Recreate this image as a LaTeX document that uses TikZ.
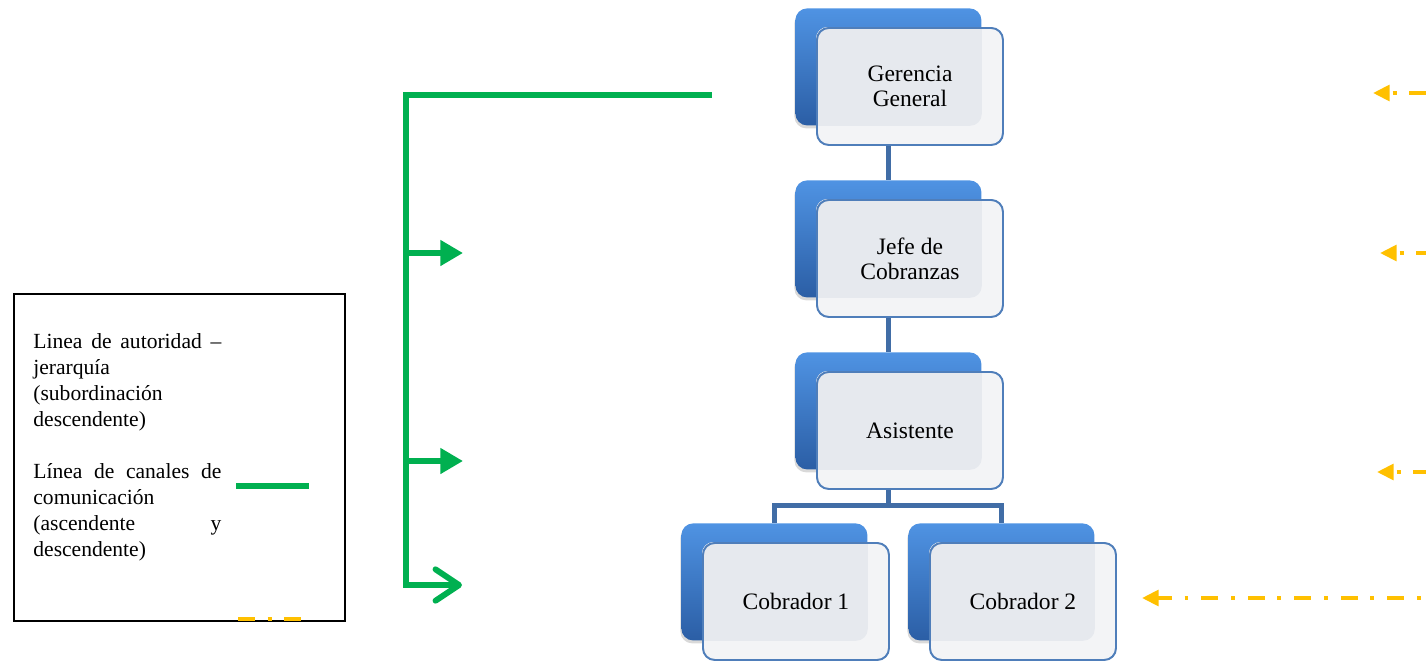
\documentclass[tikz,border=0pt]{standalone}
\usepackage{fontspec}
\setmainfont{Liberation Serif}
\usetikzlibrary{arrows.meta,shadows,backgrounds,calc}

\definecolor{backtop}{HTML}{4F93E3}
\definecolor{backbot}{HTML}{2B5EA5}
\definecolor{frontfill}{HTML}{F3F4F6}
\definecolor{overlapfill}{HTML}{E6E9EE}
\definecolor{frameblue}{HTML}{4F7EBA}
\definecolor{orgline}{HTML}{416DA6}
\definecolor{comgreen}{HTML}{00B050}
\definecolor{flowyellow}{HTML}{FFC000}

% width of the legend text column
\newlength\legw
\setlength\legw{95.9pt}
% a legend line spread over the full column width
\newcommand\spreadline[1]{\leavevmode\hbox to\legw{#1}}

% one unit of the chart: a blue card behind a light card that carries the title
\newcommand\orgunit[4]{%
  \node[backbox, anchor=north west] (#1-b) at (#2,#3) {};
  \fill[frontfill, rounded corners=6pt] (#2+21,#3+19) rectangle ++(186,117);
  \begin{scope}
    \clip[rounded corners=6pt] (#2+21,#3+19) rectangle ++(186,117);
    \fill[overlapfill, rounded corners=6pt] (#1-b.north west) rectangle (#1-b.south east);
  \end{scope}
  \node[frontbox, anchor=north west] (#1) at (#2+21,#3+19) {#4};
}

\begin{document}
\begin{tikzpicture}[x=0.51pt, y=-0.51pt,
  backbox/.style={rectangle, rounded corners=6pt, inner sep=0pt,
    minimum width=186*0.51pt, minimum height=117*0.51pt,
    top color=backtop, bottom color=backbot,
    drop shadow={shadow xshift=-0.5pt, shadow yshift=-1.5pt, opacity=0.3}},
  frontbox/.style={rectangle, rounded corners=6pt, inner sep=0pt,
    minimum width=186*0.51pt, minimum height=117*0.51pt,
    draw=frameblue, line width=1pt, align=center,
    font=\fontsize{12}{12.8}\selectfont},
  orgconn/.style={draw=orgline, line width=2.4pt},
  comline/.style={draw=comgreen, line width=3pt},
  flowline/.style={draw=flowyellow, line width=2pt,
    dash pattern=on 8.5pt off 6.6pt on 2pt off 6.6pt},
  legendtext/.style={anchor=north west, inner sep=0pt, text width=\legw,
    align=left, font=\fontsize{11}{13.26}\selectfont}
]
\useasboundingbox (0,0) rectangle (1426,661);

% chart units
\orgunit{gg}{795}{8}{Gerencia\\General}
\orgunit{jc}{795}{180}{Jefe de\\Cobranzas}
\orgunit{as}{795}{352}{Asistente}
\orgunit{c1}{681}{523}{Cobrador 1}
\orgunit{c2}{908}{523}{Cobrador 2}

% hierarchy connectors behind the cards
\begin{pgfonlayer}{background}
  \draw[orgconn] (gg-b.south) -- (jc-b.north);
  \draw[orgconn] (jc-b.south) -- (as-b.north);
  \draw[orgconn] (as-b.south) -- ++(0,36) -| (c1-b.north);
  \draw[orgconn] (as-b.south) -- ++(0,36) -| (c2-b.north);
\end{pgfonlayer}

% communication channel (green)
\coordinate (gend) at (712,95);
\coordinate (gcorner) at (406,95);
\coordinate (gfoot) at (406,588);
\coordinate (g1s) at (406,253);  \coordinate (g1e) at (463,253);
\coordinate (g2s) at (406,461);  \coordinate (g2e) at (463,461);
\coordinate (g3s) at (406,585);  \coordinate (g3e) at (462,585);
\draw[comline, line join=miter] (gend) -- (gcorner) -- (gfoot);
\draw[comline, -{Triangle[length=11.5pt,width=12.5pt]}] (g1s) -- (g1e);
\draw[comline, -{Triangle[length=11.5pt,width=12.5pt]}] (g2s) -- (g2e);
\draw[comline, -{Straight Barb[length=12pt,width=16pt,round]}] (g3s) -- (g3e);

% upward flow (yellow dash-dot)
\coordinate (y1t) at (1373,93);  \coordinate (y1e) at (1426,93);
\coordinate (y2t) at (1380,253); \coordinate (y2e) at (1426,253);
\coordinate (y3t) at (1377,472); \coordinate (y3e) at (1426,472);
\coordinate (y4t) at (1142,598); \coordinate (y4e) at (1426,598);
\draw[flowline, dash phase=13.1pt, {Triangle[length=8.5pt,width=8pt]}-] (y1t) -- (y1e);
\draw[flowline, dash phase=13.1pt, {Triangle[length=8.5pt,width=8pt]}-] (y2t) -- (y2e);
\draw[flowline, dash phase=13.1pt, {Triangle[length=8.5pt,width=8pt]}-] (y3t) -- (y3e);
\draw[flowline, dash phase=1.4pt, {Triangle[length=8.5pt,width=8pt]}-] (y4t) -- (y4e);

% legend
\node[draw=black, line width=0.8pt, rectangle, minimum width=331*0.51pt,
  minimum height=327*0.51pt, anchor=north west, inner sep=0pt] (legend) at (13,293) {};
\node[legendtext] (legtext) at (33,333) {%
  \spreadline{Linea\hfill de\hfill autoridad\hfill –}\\
  jerarquía\\
  (subordinación\\
  descendente)\\[13.26pt]
  \spreadline{Línea\hfill de\hfill canales\hfill de}\\
  comunicación\\
  \spreadline{(ascendente\hfill y}\\
  descendente)};
\coordinate (lg1) at (236,486); \coordinate (lg2) at (309,486);
\draw[draw=comgreen, line width=3.5pt] (lg1) -- (lg2);
\coordinate (ly1) at (238,619); \coordinate (ly2) at (302,619);
\draw[flowline] (ly1) -- (ly2);
\end{tikzpicture}
\end{document}
